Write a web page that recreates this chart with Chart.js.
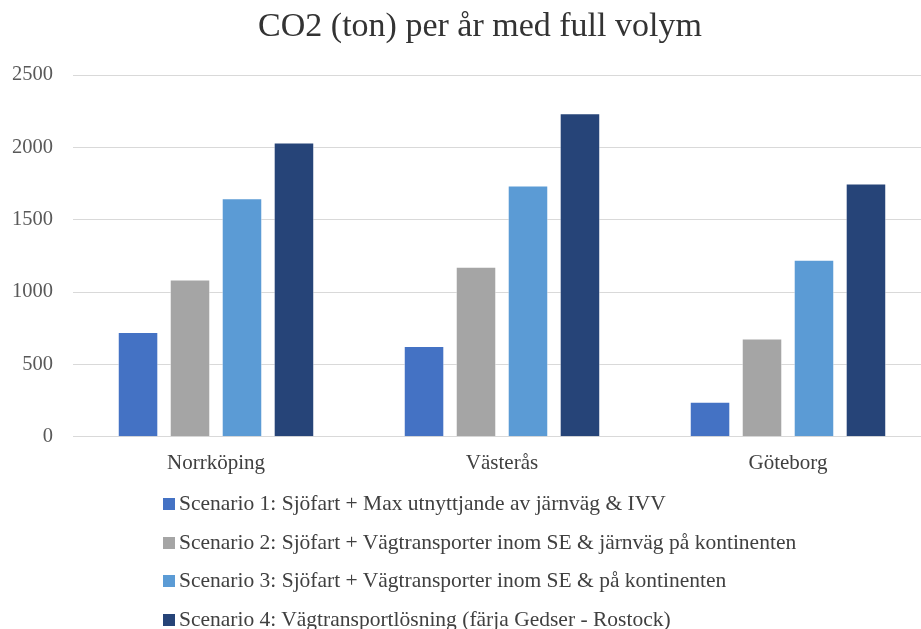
<!DOCTYPE html>
<html>
<head>
<meta charset="utf-8">
<script src="https://cdn.jsdelivr.net/npm/chart.js@4"></script>
<style>
  body { margin: 0; background: #fff; }
  #wrap { position: relative; width: 921px; height: 629px; overflow: hidden; }
  #title { position: absolute; left: 0; top: 5px; width: 960px; text-align: center; font-family: 'Liberation Serif', serif; font-size: 34px; line-height: 40.8px; color: #333333; white-space: nowrap; }
  #legend { position: absolute; left: 163px; top: 490px; font-family: 'Liberation Serif', serif; font-size: 21.5px; color: #404040; }
  #legend div { height: 38.5px; line-height: 26px; white-space: nowrap; }
  #legend span.box { display: inline-block; width: 12px; height: 12px; margin-right: 4px; }
</style>
</head>
<body>
<div id="wrap">
  <!-- canvas a bit wider than the window: the original plot runs past the right edge -->
  <canvas id="co2-chart" width="931" height="629"></canvas>
  <div id="title"></div>
  <div id="legend"></div>
</div>
<script>
// values
let chartTitle = 'CO2 (ton) per år med full volym';
let cities = ['Norrköping', 'Västerås', 'Göteborg'];
let scenarioNames = [
    'Scenario 1: Sjöfart + Max utnyttjande av järnväg & IVV',
    'Scenario 2: Sjöfart + Vägtransporter inom SE & järnväg på kontinenten',
    'Scenario 3: Sjöfart + Vägtransporter inom SE & på kontinenten',
    'Scenario 4: Vägtransportlösning (färja Gedser - Rostock)'
];
let scenario1 = [725, 628, 242];
let scenario2 = [1087, 1175, 679];
let scenario3 = [1648, 1736, 1224];
let scenario4 = [2034, 2235, 1750];
let colors = ['#4472C4', '#A5A5A5', '#5B9BD5', '#264478'];

let allValues = [scenario1, scenario2, scenario3, scenario4];

let datasets = allValues.map((vals, i) => ({
    label: scenarioNames[i],
    data: vals,
    backgroundColor: colors[i],
    borderColor: 'rgba(255,255,255,0.5)',
    borderWidth: 1,
    categoryPercentage: 0.727,
    barPercentage: 0.78
}));

let ctx = document.getElementById('co2-chart').getContext('2d');
let chartInstance = new Chart(ctx, {
    type: 'bar',
    data: { labels: cities, datasets: datasets },
    options: {
        responsive: false,
        animation: false,
        layout: { padding: { left: 10, right: 0, top: 75, bottom: 146 } },
        plugins: {
            legend: { display: false },
            tooltip: { enabled: false },
            title: { display: false }
        },
        scales: {
            x: {
                grid: { display: false },
                border: { color: '#d9d9d9', width: 1 },
                ticks: { color: '#404040', padding: 6.5, font: { family: 'Liberation Serif', size: 21 } }
            },
            y: {
                min: 0,
                max: 2500,
                afterFit: (scale) => { scale.width = 63; },
                ticks: {
                    stepSize: 500,
                    color: '#595959',
                    padding: 20,
                    font: { family: 'Liberation Serif', size: 20.5 },
                    callback: (v) => String(v)
                },
                grid: { color: '#d9d9d9', drawTicks: false },
                border: { display: false }
            }
        }
    }
});

document.getElementById('title').textContent = chartTitle;

// legend built from the same arrays, one entry per line
let legendDiv = document.getElementById('legend');
scenarioNames.forEach((name, i) => {
    let row = document.createElement('div');
    row.innerHTML = `<span class="box" style="background:${colors[i]}"></span>${name}`;
    legendDiv.appendChild(row);
});
</script>
</body>
</html>
